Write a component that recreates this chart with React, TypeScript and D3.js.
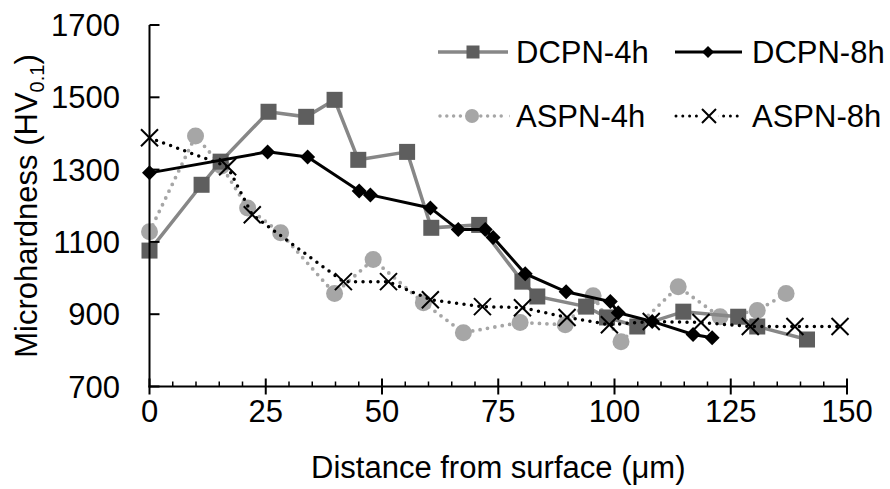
import React from "react";
import * as d3 from "d3";

const xTicks = [0, 25, 50, 75, 100, 125, 150];
const yTicks = [700, 900, 1100, 1300, 1500, 1700];

const dcpn4hX = [0, 11.2, 15.3, 25.6, 33.7, 39.8, 44.9, 55.4, 60.6, 70.9, 80.2, 83.4, 93.9, 98.4, 104.9, 114.8, 126.6, 130.7, 141.4];
const dcpn4hY = [1076, 1258, 1322, 1460, 1446, 1493, 1327, 1349, 1139, 1147, 990, 949, 921, 891, 866, 907, 893, 866, 830];

const dcpn8hX = [0, 25.4, 34, 45.1, 47.5, 60.4, 66.4, 72.2, 73.9, 80.8, 89.6, 99.1, 100.8, 108.1, 116.9, 121];
const dcpn8hY = [1291, 1349, 1335, 1241, 1230, 1194, 1134, 1134, 1112, 1012, 962, 935, 904, 880, 844, 835];

const aspn4hX = [0, 9.9, 15.5, 21.1, 28.2, 39.8, 48.1, 58.9, 67.5, 79.7, 89.4, 95.4, 101.4, 113.7, 122.7, 130.7, 136.9];
const aspn4hY = [1128, 1393, 1310, 1194, 1125, 957, 1051, 932, 849, 877, 871, 951, 824, 976, 893, 910, 957];

const aspn8hX = [0, 16.8, 22.1, 41.7, 51.4, 60.4, 71.6, 80.2, 89.8, 98.9, 107.9, 118.6, 129.2, 138.8, 148.5];
const aspn8hY = [1388, 1308, 1175, 990, 990, 940, 921, 918, 891, 871, 880, 877, 866, 866, 866];

const legendLabels = ["DCPN-4h", "DCPN-8h", "ASPN-4h", "ASPN-8h"];

const FONT = "'Liberation Sans', Arial, sans-serif";
const FS = 31;

const x = d3.scaleLinear().domain([0, 150]).range([149.5, 847]);
const y = d3.scaleLinear().domain([700, 1700]).range([386.5, 25]);

const zip = (xs: number[], ys: number[]) => xs.map((v, i) => [v, ys[i]] as [number, number]);

const lineGen = d3
  .line<[number, number]>()
  .x((d) => x(d[0]))
  .y((d) => y(d[1]));

function Square({ cx, cy, s, fill }: { cx: number; cy: number; s: number; fill: string }) {
  return <rect x={cx - s / 2} y={cy - s / 2} width={s} height={s} fill={fill} />;
}
function Diamond({ cx, cy, s }: { cx: number; cy: number; s: number }) {
  const h = s / 2;
  return <path d={`M${cx},${cy - h}L${cx + h},${cy}L${cx},${cy + h}L${cx - h},${cy}Z`} fill="#000" />;
}
function Cross({ cx, cy, s, w }: { cx: number; cy: number; s: number; w: number }) {
  const h = s / 2;
  return (
    <path
      d={`M${cx - h},${cy - h}L${cx + h},${cy + h}M${cx - h},${cy + h}L${cx + h},${cy - h}`}
      stroke="#000"
      strokeWidth={w}
      fill="none"
    />
  );
}

export default function App() {
  const d4 = zip(dcpn4hX, dcpn4hY);
  const d8 = zip(dcpn8hX, dcpn8hY);
  const a4 = zip(aspn4hX, aspn4hY);
  const a8 = zip(aspn8hX, aspn8hY);

  const minorTicks = d3.range(0, 151, 5).filter((v) => v % 25 !== 0);

  return (
    <svg
      width={890}
      height={489}
      style={{ position: "absolute", left: 0, top: 0, background: "#fff" }}
      fontFamily={FONT}
    >
      <rect x={0} y={0} width={890} height={489} fill="#fff" />

      {/* ASPN-4h */}
      <path
        d={lineGen(a4) || ""}
        fill="none"
        stroke="#a6a6a6"
        strokeWidth={3.8}
        strokeLinecap="round"
        strokeDasharray="0 7.5"
      />
      {a4.map((d, i) => (
        <circle key={"a4" + i} cx={x(d[0])} cy={y(d[1])} r={8.5} fill="#a6a6a6" />
      ))}

      {/* DCPN-4h */}
      <path d={lineGen(d4) || ""} fill="none" stroke="#878787" strokeWidth={3.5} />
      {d4.map((d, i) => (
        <Square key={"d4" + i} cx={x(d[0])} cy={y(d[1])} s={16} fill="#5e5e5e" />
      ))}

      {/* DCPN-8h */}
      <path d={lineGen(d8) || ""} fill="none" stroke="#000" strokeWidth={3} />
      {d8.map((d, i) => (
        <Diamond key={"d8" + i} cx={x(d[0])} cy={y(d[1])} s={15} />
      ))}

      {/* ASPN-8h */}
      <path
        d={lineGen(a8) || ""}
        fill="none"
        stroke="#000"
        strokeWidth={3.5}
        strokeLinecap="round"
        strokeDasharray="0 7.5"
      />
      {a8.map((d, i) => (
        <Cross key={"a8" + i} cx={x(d[0])} cy={y(d[1])} s={17} w={2} />
      ))}

      {/* Axes */}
      <line x1={x(0)} x2={x(0)} y1={y(1700)} y2={y(700) + 1} stroke="#000" strokeWidth={2} />
      <line x1={x(0) - 1} x2={x(150) + 1} y1={y(700)} y2={y(700)} stroke="#000" strokeWidth={2} />
      {yTicks.map((t) => (
        <g key={"yt" + t}>
          <line x1={x(0)} x2={x(0) + 10} y1={y(t)} y2={y(t)} stroke="#000" strokeWidth={2} />
          <text x={120} y={y(t) + 11} textAnchor="end" fontSize={FS} fill="#000">
            {t}
          </text>
        </g>
      ))}
      {xTicks.map((t) => (
        <g key={"xt" + t}>
          <line x1={x(t)} x2={x(t)} y1={y(700) - 8} y2={y(700) + 8} stroke="#000" strokeWidth={2} />
          <text x={x(t)} y={422} textAnchor="middle" fontSize={FS} fill="#000">
            {t}
          </text>
        </g>
      ))}
      {minorTicks.map((t) => (
        <line key={"mt" + t} x1={x(t)} x2={x(t)} y1={y(700) - 5} y2={y(700)} stroke="#000" strokeWidth={1.5} />
      ))}

      {/* Axis titles */}
      <text x={(x(0) + x(150)) / 2} y={478} textAnchor="middle" fontSize={FS} fill="#000">
        Distance from surface (μm)
      </text>
      <text transform="translate(37,206) rotate(-90)" textAnchor="middle" fontSize={FS} fill="#000">
        Microhardness (HV
        <tspan fontSize={20} dy={7}>
          0.1
        </tspan>
        <tspan dy={-7}>)</tspan>
      </text>

      {/* Legend */}
      <g>
        <line x1={438} x2={508} y1={52} y2={52} stroke="#878787" strokeWidth={3.5} />
        <Square cx={473} cy={52} s={13} fill="#5e5e5e" />
        <text x={516} y={63} fontSize={FS} fill="#000">
          {legendLabels[0]}
        </text>

        <line x1={675} x2={742} y1={52} y2={52} stroke="#000" strokeWidth={3} />
        <Diamond cx={708} cy={52} s={12} />
        <text x={752} y={63} fontSize={FS} fill="#000">
          {legendLabels[1]}
        </text>

        <line
          x1={440}
          x2={508}
          y1={116}
          y2={116}
          stroke="#a6a6a6"
          strokeWidth={3.5}
          strokeLinecap="round"
          strokeDasharray="0 6.8"
        />
        <circle cx={472} cy={116} r={7} fill="#a6a6a6" />
        <text x={516} y={127} fontSize={FS} fill="#000">
          {legendLabels[2]}
        </text>

        <line
          x1={676}
          x2={742}
          y1={116}
          y2={116}
          stroke="#000"
          strokeWidth={3}
          strokeLinecap="round"
          strokeDasharray="0 6.8"
        />
        <rect x={700} y={106} width={18} height={20} fill="#fff" />
        <Cross cx={709} cy={116} s={14} w={2} />
        <text x={752} y={127} fontSize={FS} fill="#000">
          {legendLabels[3]}
        </text>
      </g>
    </svg>
  );
}
